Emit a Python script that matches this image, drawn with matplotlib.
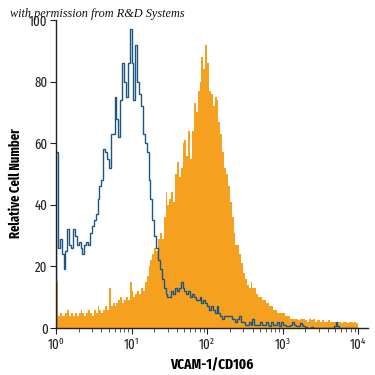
import numpy as np
import matplotlib
matplotlib.use("Agg")
import matplotlib.pyplot as plt
from matplotlib.ticker import FixedLocator, FixedFormatter, LogLocator, NullFormatter

plt.rcParams['font.family'] = ['Fira Sans Extra Condensed', 'Sofia Sans Condensed', 'DejaVu Sans']
plt.rcParams['mathtext.default'] = 'regular'

# histogram channels: 40 per decade, 10^0 .. 10^4
n_bins = 160
edges = np.logspace(0, 4, n_bins + 1)

# isotype control (open blue line), one row = quarter decade
isotype = [
    57, 26, 29, 24, 19, 25, 32, 27, 26, 32,
    30, 27, 28, 26, 24, 27, 28, 27, 31, 33,
    35, 37, 42, 46, 48, 58, 57, 55, 52, 63,
    63, 75, 68, 62, 74, 86, 80, 75, 86, 97,
    86, 74, 92, 80, 76, 72, 63, 60, 57, 48,
    42, 35, 30, 26, 22, 19, 16, 13, 11, 10,
    10, 12, 11, 13, 12, 13, 15, 13, 12, 11,
    12, 10, 11, 10, 9, 9, 10, 8, 9, 8,
    7, 6, 7, 6, 5, 7, 5, 4, 3, 4,
    4, 4, 4, 3, 3, 2, 3, 4, 2, 2,
    1, 1, 2, 1, 3, 1, 1, 1, 2, 1,
    1, 2, 1, 0.5, 2, 1, 1, 2, 0.5, 2,
    1, 1, 0.5, 0.5, 1, 2, 1, 0.5, 0.5, 1.5,
    1, 0.5, 0.3, 0, 0, 0.3, 0, 0, 0, 0,
    0, 0, 0, 0, 0, 0, 0, 0.5, 2, 0.5,
    0, 0, 0, 0, 0, 0, 0, 0, 0, 0,
]

# VCAM-1 stained (filled orange)
vcam = [
    15, 4, 5, 4, 4, 5, 6, 4, 5, 4,
    5, 4, 5, 6, 5, 4, 5, 6, 5, 4,
    6, 5, 7, 6, 5, 6, 7, 6, 13, 7,
    8, 7, 8, 9, 10, 8, 9, 10, 9, 15,
    12, 10, 11, 12, 11, 13, 12, 15, 17, 20,
    22, 24, 26, 25, 29, 31, 29, 36, 44, 40,
    42, 44, 41, 50, 54, 49, 52, 60, 61, 56,
    64, 55, 64, 73, 70, 77, 80, 88, 84, 92,
    86, 77, 76, 72, 75, 74, 67, 63, 57, 52,
    50, 46, 41, 36, 31, 27, 27, 24, 21, 18,
    16, 14, 13, 15, 13, 13, 11, 10, 10, 9,
    9, 8, 8, 7, 7, 6, 6, 5, 5, 5,
    5, 4, 4, 4, 3, 3, 3, 3, 2.5, 3,
    3, 3, 2.5, 2, 3, 2.5, 3, 2, 2.5, 2.5,
    2, 2.5, 2, 2, 2.5, 2, 2, 2, 1.5, 2,
    2, 1.5, 2, 2, 1.5, 2, 2, 1.5, 2, 1.5,
]

x_ticks = [1, 10, 100, 1000, 10000]
x_labels = ['10$^0$', '10$^1$', '10$^2$', '10$^3$', '10$^4$']
y_ticks = [0, 20, 40, 60, 80, 100]

fig = plt.figure(figsize=(3.75, 3.75), dpi=100)
ax = fig.add_axes([0.1493, 0.1253, 0.8320, 0.8213])

ax.stairs(vcam, edges, fill=True, color='#f5a01f', linewidth=0)
ax.stairs(isotype, edges, color='#1b5684', linewidth=1.0)

ax.set_xscale('log')
ax.set_xlim(1, 10 ** 4.13)
ax.set_ylim(0, 100)

ax.xaxis.set_major_locator(FixedLocator(x_ticks))
ax.xaxis.set_major_formatter(FixedFormatter(x_labels))
ax.xaxis.set_minor_locator(LogLocator(base=10, subs=np.arange(2, 10), numticks=20))
ax.xaxis.set_minor_formatter(NullFormatter())
ax.set_yticks(y_ticks)

for side in ['top', 'right']:
    ax.spines[side].set_visible(False)
for side in ['left', 'bottom']:
    ax.spines[side].set_linewidth(1.0)
    ax.spines[side].set_color('#222222')

ax.tick_params(axis='both', which='major', length=4, width=0.8, labelsize=10,
               colors='#222222', pad=2)
ax.tick_params(axis='x', which='minor', length=3, width=0.7, colors='#555555')

ax.set_xlabel('VCAM-1/CD106', fontsize=10.5, fontweight='bold', labelpad=4)
ax.set_ylabel('Relative Cell Number', fontsize=9.8, fontweight='bold')
ax.yaxis.set_label_coords(-0.105, 0.47)

fig.text(0.027, 0.955, 'with permission from R&D Systems', family='Liberation Serif',
         style='italic', fontsize=8.8, color='#111111')

fig.savefig('out.png', dpi=100, facecolor='white')
